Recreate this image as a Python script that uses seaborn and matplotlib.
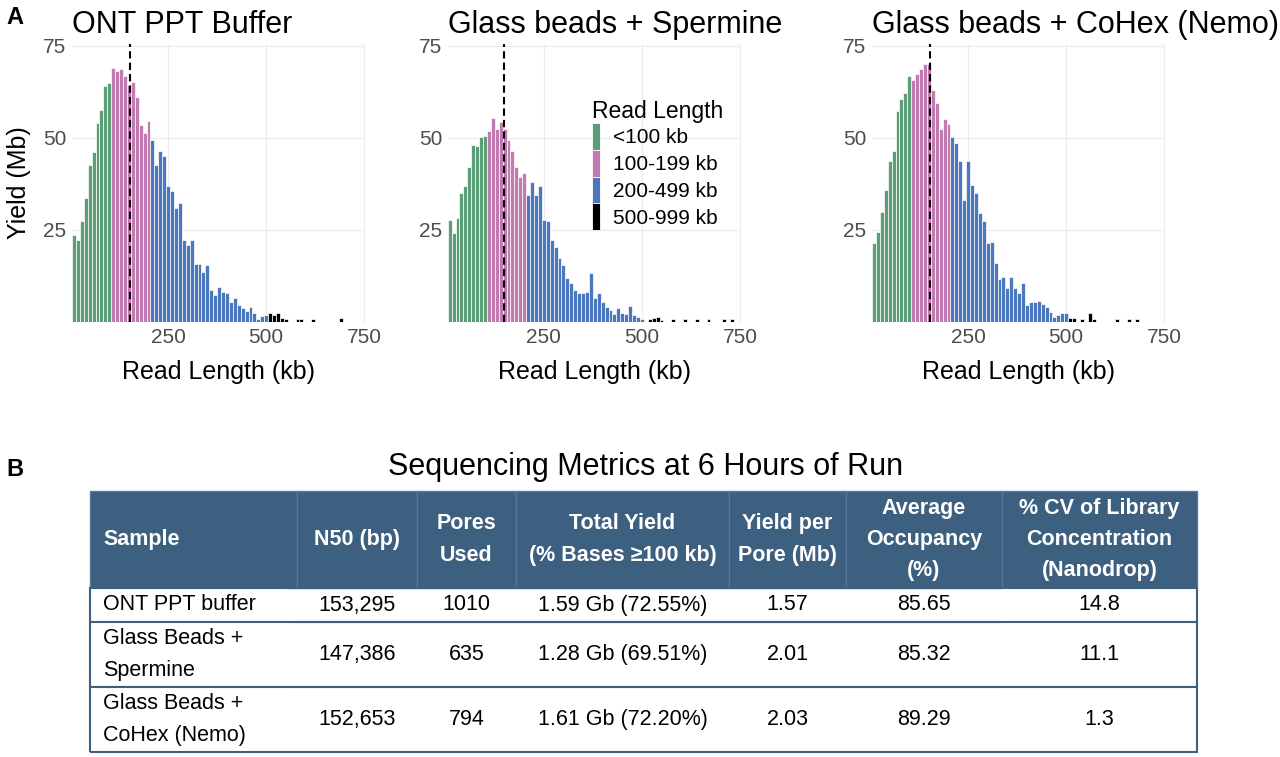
import numpy as np
import pandas as pd
import matplotlib.pyplot as plt
import seaborn as sns
from matplotlib.patches import Patch

# ---- histogram data: yield (Mb) per 10 kb bin, bins centred at 10, 20, ... 500 kb
bin_centres = np.arange(10, 510, 10)

ont_yield = [23.6, 22.3, 27.3, 33.6, 42.7, 46.3, 54.0, 57.6, 64.0, 65.0,
             69.0, 68.3, 68.6, 66.8, 64.5, 65.3, 61.0, 53.5, 51.3, 54.5,
             49.5, 42.7, 46.5, 45.0, 36.8, 35.5, 31.0, 32.2, 22.3, 20.8,
             22.3, 15.8, 15.8, 13.5, 15.5, 8.7, 7.3, 9.6, 8.2, 7.8,
             5.5, 6.4, 4.5, 3.8, 3.0, 4.2, 2.4, 0.8, 1.5, 1.8]
sperm_yield = [27.7, 24.1, 28.2, 35.0, 37.0, 42.1, 48.0, 47.8, 50.3, 50.5,
               52.0, 55.3, 52.5, 54.4, 52.5, 49.5, 46.5, 42.0, 39.3, 40.5,
               34.5, 37.9, 34.5, 36.8, 27.7, 27.3, 22.3, 20.5, 17.5, 15.5,
               12.0, 10.5, 8.7, 7.8, 7.8, 8.2, 13.2, 6.4, 7.8, 5.5,
               4.2, 3.3, 2.2, 3.7, 2.5, 2.2, 4.3, 1.8, 1.4, 0.8]
cohex_yield = [21.4, 24.5, 30.0, 35.9, 43.8, 46.5, 57.2, 60.5, 62.1, 66.7,
               65.8, 67.3, 68.8, 70.0, 70.0, 63.0, 59.5, 52.4, 55.1, 53.8,
               50.3, 48.6, 43.8, 33.0, 43.6, 37.2, 35.0, 29.5, 27.5, 21.4,
               21.6, 16.0, 11.8, 12.3, 9.1, 12.2, 9.3, 7.8, 10.5, 4.5,
               5.5, 5.5, 5.8, 5.0, 4.2, 2.8, 1.4, 1.9, 2.4, 2.5]

# sparse long reads beyond 500 kb
ont_long_kb = [510, 520, 530, 540, 550, 580, 590, 620, 690]
ont_long_yield = [2.4, 1.9, 2.4, 1.0, 0.7, 0.8, 0.8, 0.8, 1.0]
sperm_long_kb = [520, 530, 540, 550, 580, 610, 640, 670, 710, 730]
sperm_long_yield = [0.7, 1.2, 1.3, 0.6, 0.8, 0.8, 0.8, 0.8, 0.8, 0.8]
cohex_long_kb = [510, 520, 540, 560, 570, 630, 660, 680]
cohex_long_yield = [1.2, 1.2, 0.8, 2.4, 0.8, 0.8, 0.8, 0.8]

samples = ["ONT PPT Buffer", "Glass beads + Spermine", "Glass beads + CoHex (Nemo)"]
n50_kb = [153.295, 147.386, 152.653]

bands = ["<100 kb", "100-199 kb", "200-499 kb", "500-999 kb"]
band_colors = ["#5c9e78", "#c27bb0", "#4a77bd", "#000000"]

# ---- table data
col_labels = ["Sample", "N50 (bp)", "Pores\nUsed", "Total Yield\n(% Bases \u2265100 kb)",
              "Yield per\nPore (Mb)", "Average\nOccupancy\n(%)",
              "% CV of Library\nConcentration\n(Nanodrop)"]
table_rows = [
    ["ONT PPT buffer", "153,295", "1010", "1.59 Gb (72.55%)", "1.57", "85.65", "14.8"],
    ["Glass Beads +\nSpermine", "147,386", "635", "1.28 Gb (69.51%)", "2.01", "85.32", "11.1"],
    ["Glass Beads +\nCoHex (Nemo)", "152,653", "794", "1.61 Gb (72.20%)", "2.03", "89.29", "1.3"],
]

frames = []
for name, y, lk, ly in zip(samples,
                           [ont_yield, sperm_yield, cohex_yield],
                           [ont_long_kb, sperm_long_kb, cohex_long_kb],
                           [ont_long_yield, sperm_long_yield, cohex_long_yield]):
    frames.append(pd.DataFrame({"sample": name,
                                "kb": np.concatenate([bin_centres, lk]),
                                "yield_mb": np.concatenate([y, ly])}))
df = pd.concat(frames, ignore_index=True)
df["band"] = pd.cut(df["kb"], [0, 100, 200, 500, 1000], labels=bands)

sns.set_theme(style="whitegrid", rc={"grid.color": "#ebebeb", "grid.linewidth": 0.8})
plt.rcParams["font.family"] = ["Liberation Sans", "DejaVu Sans"]
plt.rcParams["text.color"] = "black"
plt.rcParams["axes.labelcolor"] = "black"

W, H = 1280, 757
fig = plt.figure(figsize=(12.8, 7.57), dpi=100)
fig.patch.set_facecolor("white")

lefts = [72, 447.7, 872]
palette = dict(zip(bands, band_colors))
for i, name in enumerate(samples):
    ax = fig.add_axes([lefts[i] / W, 1 - 322 / H, 293 / W, 278 / H])
    sns.histplot(data=df[df["sample"] == name], x="kb", weights="yield_mb",
                 hue="band", hue_order=bands, palette=palette,
                 binwidth=10, binrange=(5, 755), multiple="layer",
                 alpha=1, edgecolor="white", linewidth=0.5, legend=False, ax=ax)
    ax.axvline(n50_kb[i], color="black", ls=(0, (3.5, 2)), lw=1.5)
    ax.set_xlim(5, 752)
    ax.set_ylim(0, 75.5)
    ax.set_xticks([250, 500, 750])
    ax.set_yticks([25, 50, 75])
    ax.set_axisbelow(True)
    sns.despine(ax=ax, left=True, bottom=True)
    ax.tick_params(length=0, labelsize=15, labelcolor="#4d4d4d", pad=4)
    ax.set_xlabel("Read Length (kb)", fontsize=18, labelpad=10)
    if i == 0:
        ax.set_ylabel("Yield (Mb)", fontsize=18, labelpad=9)
    else:
        ax.set_ylabel("")
    ax.set_title(name, loc="left", fontsize=22, pad=8, color="black")
    if i == 1:
        handles = [Patch(facecolor=c, edgecolor="white", lw=0.6) for c in band_colors]
        ax.legend(handles, bands, title="Read Length", loc="upper left",
                  bbox_to_anchor=(592 / W, 1 - 100 / H), bbox_transform=fig.transFigure,
                  frameon=False, fontsize=15, title_fontsize=16.5,
                  handlelength=0.4, handleheight=1.6, handletextpad=0.6,
                  labelspacing=0, borderpad=0, borderaxespad=0, alignment="left")

fig.text(15 / W, 1 - 17 / H, "A", fontsize=17, weight="bold", ha="center", va="center")
fig.text(15 / W, 1 - 469 / H, "B", fontsize=17, weight="bold", ha="center", va="center")
fig.text(646 / W, 1 - 467 / H, "Sequencing Metrics at 6 Hours of Run",
         fontsize=22, ha="center", va="center")

# ---- table
col_w = [207, 120, 99, 213, 117, 156, 195]
row_h = [97, 34, 65, 65]
header_blue = "#3d5f80"
tax = fig.add_axes([90 / W, 1 - 752 / H, sum(col_w) / W, sum(row_h) / H])
tax.axis("off")
tbl = tax.table(cellText=table_rows, colLabels=col_labels,
                colWidths=[w / sum(col_w) for w in col_w],
                cellLoc="center", bbox=[0, 0, 1, 1])
tbl.auto_set_font_size(False)
tbl.set_fontsize(15.5)
ncols = len(col_labels)
for (r, c), cell in tbl.get_celld().items():
    cell.set_height(row_h[r] / sum(row_h))
    txt = cell.get_text()
    txt.set_linespacing(1.65)
    if r == 0:
        cell.set_facecolor(header_blue)
        cell.set_edgecolor("#56779a")
        cell.set_linewidth(1)
        txt.set_color("white")
        txt.set_weight("bold")
    else:
        cell.set_facecolor("white")
        cell.set_edgecolor(header_blue)
        cell.set_linewidth(1.5)
        cell.visible_edges = "BTL" if c == 0 else ("BTR" if c == ncols - 1 else "BT")
        txt.set_color("black")
    if c == 0:
        txt.set_horizontalalignment("left")
        cell.PAD = 0.063

fig.savefig("out.png", dpi=100)
